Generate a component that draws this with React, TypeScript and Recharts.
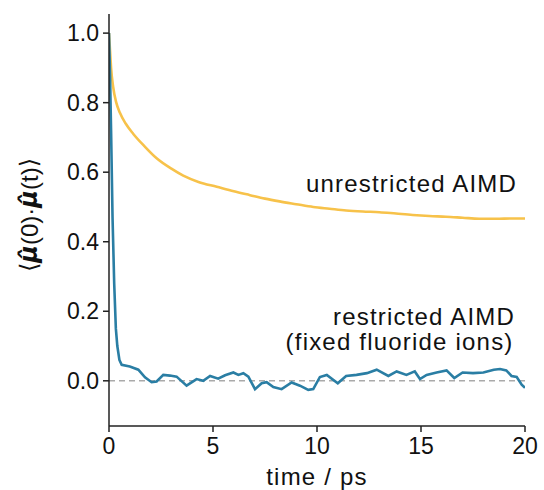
import React from "react";
import { LineChart, Line, XAxis, YAxis, ReferenceLine, ReferenceDot, Label } from "recharts";

const unrestrictedTime = [0, 0.05, 0.1, 0.2, 0.35, 0.53, 0.8, 1.17, 1.7, 2.29, 3.0, 3.57, 4.3, 5.18, 6.0, 6.78, 7.5, 8.2, 9.0, 9.82, 10.6, 11.4, 12.2, 13.0, 13.8, 14.6, 15.4, 16.2, 17.0, 17.8, 18.6, 19.4, 20];
const unrestrictedValue = [1.0, 0.95, 0.9, 0.845, 0.8, 0.77, 0.74, 0.71, 0.675, 0.64, 0.61, 0.59, 0.572, 0.558, 0.545, 0.534, 0.524, 0.516, 0.508, 0.5, 0.495, 0.49, 0.487, 0.485, 0.481, 0.477, 0.474, 0.472, 0.469, 0.466, 0.466, 0.467, 0.467];

const restrictedTime = [0, 0.05, 0.1, 0.17, 0.25, 0.33, 0.4, 0.5, 0.61, 1.0, 1.41, 1.73, 2.05, 2.29, 2.61, 2.93, 3.25, 3.73, 4.21, 4.53, 4.86, 5.25, 5.58, 5.98, 6.22, 6.46, 6.7, 7.02, 7.34, 7.58, 7.9, 8.3, 8.78, 9.18, 9.58, 9.82, 10.14, 10.47, 11.0, 11.4, 11.9, 12.4, 12.87, 13.43, 13.83, 14.3, 14.7, 14.95, 15.27, 15.75, 16.23, 16.6, 17.0, 17.5, 18.0, 18.5, 18.8, 19.1, 19.35, 19.6, 19.84, 20];
const restrictedValue = [1.0, 0.88, 0.72, 0.47, 0.28, 0.15, 0.1, 0.06, 0.046, 0.041, 0.032, 0.01, -0.004, -0.002, 0.017, 0.015, 0.012, -0.014, 0.005, 0.0, 0.014, 0.006, 0.016, 0.024, 0.017, 0.022, 0.012, -0.024, -0.007, -0.004, -0.018, -0.024, -0.005, -0.014, -0.026, -0.024, 0.011, 0.017, -0.007, 0.014, 0.017, 0.022, 0.032, 0.014, 0.027, 0.017, 0.027, 0.005, 0.017, 0.024, 0.03, 0.008, 0.024, 0.022, 0.024, 0.032, 0.034, 0.03, 0.014, 0.011, -0.011, -0.02];

const xTicks = [0, 5, 10, 15, 20];
const yTicks = [0, 0.2, 0.4, 0.6, 0.8, 1.0];

const unrestrictedData = unrestrictedTime.map((t, i) => ({ t, v: unrestrictedValue[i] }));
const restrictedData = restrictedTime.map((t, i) => ({ t, v: restrictedValue[i] }));

const FONT = "'Liberation Sans', Arial, Helvetica, sans-serif";
const AXIS = "#222";

const annotation = (text: string) => (props: any) => {
  const vb = props.viewBox || {};
  return (
    <text x={vb.x} y={vb.y} textAnchor="end" fontFamily={FONT} fontSize={24} letterSpacing={1.2} fill="#111">
      {text}
    </text>
  );
};

const YTitle = (props: any) => {
  const vb = props.viewBox || {};
  const cx = (vb.x || 0) + 29;
  const cy = (vb.y || 0) + (vb.height || 0) / 2 - 5;
  return (
    <text x={cx} y={cy} transform={`rotate(-90 ${cx} ${cy})`} textAnchor="middle" dominantBaseline="central" fontFamily={FONT} fontSize={24} fill="#111">
      <tspan fontFamily="'DejaVu Sans', sans-serif" fontWeight="normal">⟨</tspan>
      <tspan fontFamily="'DejaVu Sans', sans-serif" fontStyle="italic" fontWeight="bold">μ̂</tspan>
      <tspan>(0)·</tspan>
      <tspan fontFamily="'DejaVu Sans', sans-serif" fontStyle="italic" fontWeight="bold">μ̂</tspan>
      <tspan>(t)</tspan>
      <tspan fontFamily="'DejaVu Sans', sans-serif" fontWeight="normal">⟩</tspan>
    </text>
  );
};

const XTitle = (props: any) => {
  const vb = props.viewBox || {};
  const cx = (vb.x || 0) + (vb.width || 0) / 2;
  const y = (vb.y || 0) + 59;
  return (
    <text x={cx} y={y} textAnchor="middle" fontFamily={FONT} fontSize={24} letterSpacing={1.2} fill="#111">
      time / ps
    </text>
  );
};

export default function App() {
  return (
    <div style={{ position: "absolute", left: 0, top: 0, background: "#fff" }}>
      <LineChart width={544} height={490} margin={{ top: 14, right: 19, bottom: 0, left: 0 }}>
        <XAxis
          xAxisId="main"
          type="number"
          dataKey="t"
          domain={[0, 20]}
          ticks={xTicks}
          allowDataOverflow
          height={64}
          tickSize={6}
          tickMargin={6}
          axisLine={{ stroke: AXIS, strokeWidth: 1.5 }}
          tickLine={{ stroke: AXIS, strokeWidth: 1.5 }}
          tick={{ fill: "#111", fontSize: 23, fontFamily: FONT }}
        >
          <Label content={XTitle} />
        </XAxis>
        <XAxis
          xAxisId="top"
          orientation="top"
          type="number"
          dataKey="t"
          domain={[0, 20]}
          height={0}
          tick={false}
          tickLine={false}
          axisLine={{ stroke: AXIS, strokeWidth: 1.5 }}
        />
        <YAxis
          yAxisId="main"
          type="number"
          domain={[-0.13, 1.055]}
          ticks={yTicks}
          allowDataOverflow
          width={109}
          tickSize={6}
          tickMargin={4}
          tickFormatter={(v: number) => v.toFixed(1)}
          axisLine={{ stroke: AXIS, strokeWidth: 1.5 }}
          tickLine={{ stroke: AXIS, strokeWidth: 1.5 }}
          tick={{ fill: "#111", fontSize: 23, fontFamily: FONT }}
        >
          <Label content={YTitle} />
        </YAxis>
        <YAxis
          yAxisId="right"
          orientation="right"
          type="number"
          domain={[-0.13, 1.055]}
          width={0}
          tick={false}
          tickLine={false}
          axisLine={{ stroke: AXIS, strokeWidth: 1.5 }}
        />
        <ReferenceLine xAxisId="main" yAxisId="main" y={0} stroke="#aaaaaa" strokeWidth={1.5} strokeDasharray="6 4" />
        <Line
          xAxisId="main"
          yAxisId="main"
          data={unrestrictedData}
          dataKey="v"
          type="monotone"
          stroke="#F7C24A"
          strokeWidth={2.6}
          dot={false}
          isAnimationActive={false}
        />
        <Line
          xAxisId="main"
          yAxisId="main"
          data={restrictedData}
          dataKey="v"
          type="linear"
          stroke="#2A7EA4"
          strokeWidth={2.6}
          dot={false}
          isAnimationActive={false}
        />
        <ReferenceDot xAxisId="main" yAxisId="main" x={19.62} y={0.543} r={0} fill="none" stroke="none">
          <Label content={annotation("unrestricted AIMD")} />
        </ReferenceDot>
        <ReferenceDot xAxisId="main" yAxisId="main" x={19.52} y={0.16} r={0} fill="none" stroke="none">
          <Label content={annotation("restricted AIMD")} />
        </ReferenceDot>
        <ReferenceDot xAxisId="main" yAxisId="main" x={19.45} y={0.088} r={0} fill="none" stroke="none">
          <Label content={annotation("(fixed fluoride ions)")} />
        </ReferenceDot>
      </LineChart>
    </div>
  );
}
